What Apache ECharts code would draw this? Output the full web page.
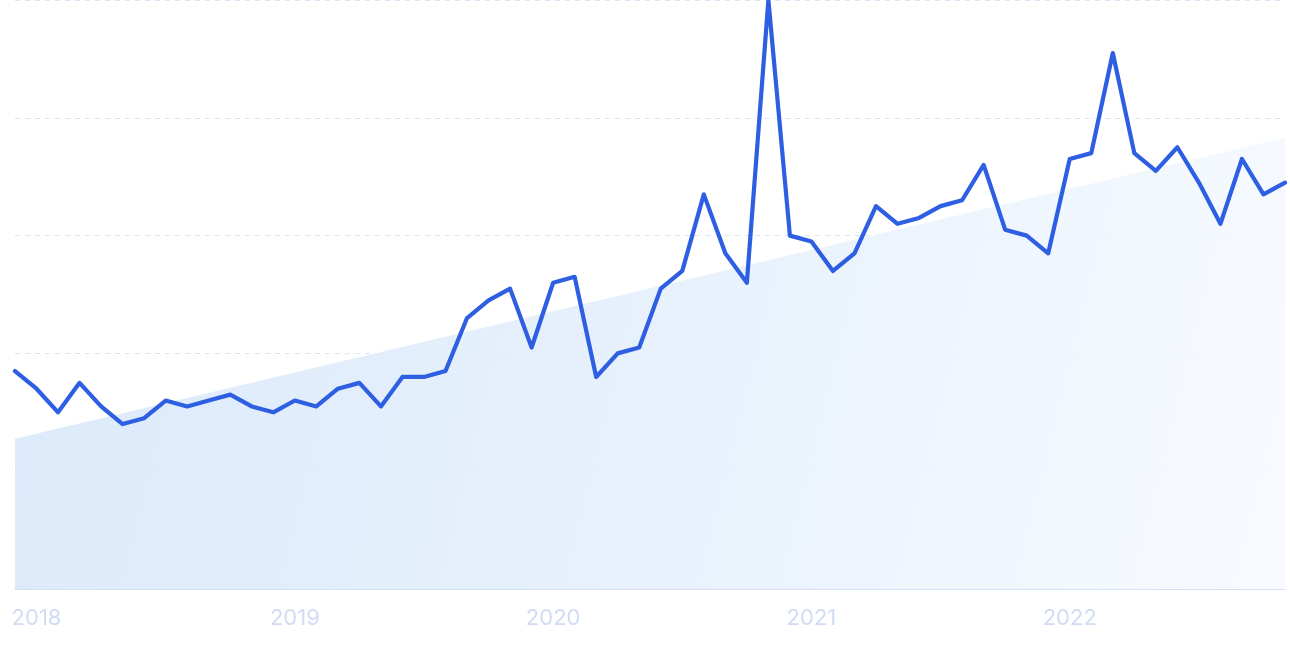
<!DOCTYPE html>
<html>
<head>
<meta charset="utf-8">
<style>
  html, body { margin: 0; padding: 0; background: #ffffff; }
  #chart { width: 1290px; height: 645px; }
</style>
<script src="https://cdn.jsdelivr.net/npm/echarts@6/dist/echarts.min.js"></script>
</head>
<body>
<div id="chart"></div>
<script>
const months = [
  '2017-12',
  '2018-01','2018-02','2018-03','2018-04','2018-05','2018-06','2018-07','2018-08','2018-09','2018-10','2018-11','2018-12',
  '2019-01','2019-02','2019-03','2019-04','2019-05','2019-06','2019-07','2019-08','2019-09','2019-10','2019-11','2019-12',
  '2020-01','2020-02','2020-03','2020-04','2020-05','2020-06','2020-07','2020-08','2020-09','2020-10','2020-11','2020-12',
  '2021-01','2021-02','2021-03','2021-04','2021-05','2021-06','2021-07','2021-08','2021-09','2021-10','2021-11','2021-12',
  '2022-01','2022-02','2022-03','2022-04','2022-05','2022-06','2022-07','2022-08','2022-09','2022-10','2022-11'
];

const interest = [
  37,
  34, 30, 35, 31, 28, 29, 32, 31, 32, 33, 31, 30,
  32, 31, 34, 35, 31, 36, 36, 37, 46, 49, 51, 41,
  52, 53, 36, 40, 41, 51, 54, 67, 57, 52, 100, 60,
  59, 54, 57, 65, 62, 63, 65, 66, 72, 61, 60, 57,
  73, 74, 91, 74, 71, 75, 69, 62, 73, 67, 69
];

const trendEnds = [25.5, 76.6];

const yMin = 0, yMax = 100, yStep = 20;

const chart = echarts.init(document.getElementById('chart'), null, { renderer: 'canvas' });

chart.setOption({
  animation: false,
  backgroundColor: '#ffffff',
  grid: { left: 15, right: 5, top: 0, bottom: 56, containLabel: false },
  xAxis: {
    type: 'category',
    data: months,
    boundaryGap: false,
    axisLine: { show: true, lineStyle: { color: '#d5e1f5', width: 1 } },
    axisTick: { show: false },
    splitLine: { show: false },
    axisLabel: {
      show: true,
      interval: function (index, value) { return value.slice(5) === '01'; },
      formatter: function (value) { return value.slice(0, 4); },
      color: '#d0dcf3',
      fontSize: 22,
      fontFamily: 'Inter, "Liberation Sans", Arial, sans-serif',
      margin: 18
    }
  },
  yAxis: {
    type: 'value',
    min: yMin,
    max: yMax,
    interval: yStep,
    axisLine: { show: false },
    axisTick: { show: false },
    axisLabel: { show: false },
    splitLine: { show: true, lineStyle: { color: '#d9e4f4', type: [5, 5], width: 1 } }
  },
  series: [
    {
      type: 'line',
      silent: true,
      showSymbol: false,
      symbol: 'none',
      data: [[months[0], trendEnds[0]], [months[months.length - 1], trendEnds[1]]],
      lineStyle: { width: 0, opacity: 0 },
      areaStyle: {
        opacity: 1,
        color: new echarts.graphic.LinearGradient(0, 0, 1, 0.7, [
          { offset: 0, color: 'rgba(215,231,250,0.9)' },
          { offset: 0.55, color: 'rgba(230,240,252,0.9)' },
          { offset: 1, color: 'rgba(246,250,255,0.9)' }
        ])
      },
      z: 1
    },
    {
      type: 'line',
      data: interest,
      showSymbol: false,
      symbol: 'none',
      smooth: false,
      lineStyle: { color: '#2e5fe3', width: 4.2, join: 'round', cap: 'round' },
      z: 3
    }
  ]
});
</script>
</body>
</html>
